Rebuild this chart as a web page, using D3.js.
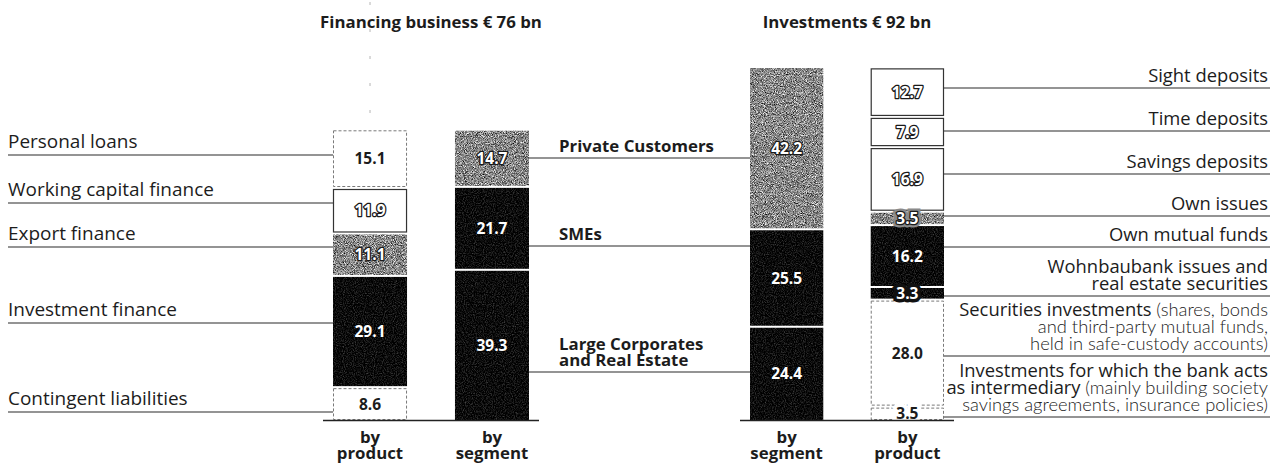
<!DOCTYPE html>
<html>
<head>
<meta charset="utf-8">
<script src="https://cdn.jsdelivr.net/npm/d3@7"></script>
<style>
  html, body { margin: 0; background: #fff; }
  svg { display: block; font-family: "Open Sans", "Noto Sans", sans-serif; }
  .light { font-family: Lato, "Open Sans", sans-serif; font-weight: 300; }
</style>
</head>
<body>
<svg id="chart" width="1277" height="470"></svg>
<script>
// ---------- data (€ bn) ----------
const financingTitle = "Financing business € 76 bn";
const investmentsTitle = "Investments € 92 bn";
const financingColumns = ["by product", "by segment"];
const investmentColumns = ["by segment", "by product"];

const financingProducts = ["Personal loans", "Working capital finance", "Export finance", "Investment finance", "Contingent liabilities"];
const financingProductValues = [15.1, 11.9, 11.1, 29.1, 8.6];

const segments = ["Private Customers", "SMEs", "Large Corporates and Real Estate"];
const financingSegmentValues = [14.7, 21.7, 39.3];
const investmentSegmentValues = [42.2, 25.5, 24.4];

const investmentProducts = ["Sight deposits", "Time deposits", "Savings deposits", "Own issues", "Own mutual funds",
  "Wohnbaubank issues and real estate securities",
  "Securities investments (shares, bonds and third-party mutual funds, held in safe-custody accounts)",
  "Investments for which the bank acts as intermediary (mainly building society savings agreements, insurance policies)"];
const investmentProductValues = [12.7, 7.9, 16.9, 3.5, 16.2, 3.3, 28.0, 3.5];

// ---------- label line breaks: [regular part, light part] ----------
const segmentLabelLines = [["Private Customers"], ["SMEs"], ["Large Corporates", "and Real Estate"]];
const investmentProductLines = [
  [["Sight deposits"]],
  [["Time deposits"]],
  [["Savings deposits"]],
  [["Own issues"]],
  [["Own mutual funds"]],
  [["Wohnbaubank issues and"], ["real estate securities"]],
  [["Securities investments ", "(shares, bonds"], ["", "and third-party mutual funds,"], ["", "held in safe-custody accounts)"]],
  [["Investments for which the bank acts"], ["as intermediary ", "(mainly building society"], ["", "savings agreements, insurance policies)"]]
];

// ---------- segment styles ----------
const financingProductStyles = ["dashed", "outline", "grain", "solid", "dashed"];
const financingSegmentStyles = ["grain", "solid", "solid"];
const investmentSegmentStyles = ["grain", "solid", "solid"];
const investmentProductStyles = ["outline", "outline", "outline", "grain", "solid", "solid", "dashed", "dashed"];

// ---------- leader line positions ----------
const financingProductLeaderY = [155, 203, 247, 323, 412];
const segmentLeaderY = [158, 246, 372];
const investmentProductLeaderY = [88, 131, 174, 216, 247, 296, 356, 417];

// ---------- layout ----------
const svg = d3.select("#chart");
const baseY = 420;
const ink = "#1c1c1c";

const y = d3.scaleLinear().domain([0, 92.1]).range([baseY, 68]);
const xFin = d3.scaleBand().domain(financingColumns).range([333, 529]).paddingInner(0.393);
const xInv = d3.scaleBand().domain(investmentColumns).range([750, 944]).paddingInner(0.393);

// print-screen textures
const defs = svg.append("defs");
function noiseFilter(id, gain, offset, freq, seed) {
  const f = defs.append("filter").attr("id", id)
    .attr("x", 0).attr("y", 0).attr("width", "100%").attr("height", "100%")
    .attr("color-interpolation-filters", "sRGB");
  f.append("feTurbulence").attr("type", "fractalNoise").attr("baseFrequency", freq)
    .attr("numOctaves", 2).attr("seed", seed).attr("result", "noise");
  f.append("feColorMatrix").attr("in", "noise").attr("type", "matrix")
    .attr("values", `${gain} 0 0 0 ${offset}  ${gain} 0 0 0 ${offset}  ${gain} 0 0 0 ${offset}  0 0 0 0 1`);
  f.append("feComposite").attr("in2", "SourceGraphic").attr("operator", "in");
}
noiseFilter("grain", 1.5, -0.22, 1.1, 7);
noiseFilter("speck", 0.55, -0.23, 0.9, 3);

// font sizes fitted to the label column widths
function fit(text, weight, target, cls) {
  const t = svg.append("text").style("font-size", "100px").style("font-weight", weight).text(text);
  if (cls) t.attr("class", cls);
  const w = t.node().getComputedTextLength();
  t.remove();
  return 100 * target / w;
}
const labelSize = Math.min(19, fit("Working capital finance", 400, 206));
const rightLabelSize = Math.min(19, fit("Investments for which the bank acts", 400, 309));
const lightSize = Math.min(rightLabelSize * 1.05, fit("savings agreements, insurance policies)", 300, 306, "light"));
const boldSize = Math.min(17, fit("Private Customers", 700, 155));
const valueSize = 15.5;

// ---------- stacked bars ----------
const bgColour = { dashed: "#fff", outline: "#fff", grain: "#8a8a8a", solid: "#111" };

function drawStack(x0, width, values, styles) {
  const g = svg.append("g");
  const n = values.length;
  // stack from the bottom: the last element sits on the baseline
  const tops = new Array(n), bottoms = new Array(n);
  let acc = 0;
  for (let i = n - 1; i >= 0; i--) {
    bottoms[i] = acc;
    acc += values[i];
    tops[i] = acc;
  }
  const segs = values.map((v, i) => ({
    v, style: styles[i],
    y0: y(tops[i]) + (i === 0 ? 0 : 1),
    y1: y(bottoms[i]) - (i === n - 1 ? 0 : 1)
  }));

  segs.forEach(s => {
    const r = g.append("rect")
      .attr("x", x0 + 0.5).attr("width", width - 1)
      .attr("y", s.y0 + 0.5).attr("height", Math.max(0, s.y1 - s.y0 - 1));
    if (s.style === "dashed") {
      r.attr("fill", "#fff").attr("stroke", "#7a7a7a").attr("stroke-width", 1).attr("stroke-dasharray", "3,2");
    } else if (s.style === "outline") {
      r.attr("fill", "#fff").attr("stroke", "#333").attr("stroke-width", 1.2);
    } else if (s.style === "grain") {
      r.attr("x", x0).attr("width", width).attr("y", s.y0).attr("height", s.y1 - s.y0)
        .attr("fill", "#8a8a8a").attr("filter", "url(#grain)");
    } else {
      r.attr("x", x0).attr("width", width).attr("y", s.y0).attr("height", s.y1 - s.y0)
        .attr("fill", "#111").attr("filter", "url(#speck)");
    }
  });

  segs.forEach(s => {
    const cx = x0 + width / 2;
    const cy = (s.y0 + s.y1) / 2 + valueSize * 0.36;
    const label = d3.format(".1f")(s.v);
    if (s.y1 - s.y0 < 18) {
      // halo so the label interrupts the separator lines
      g.append("text").attr("x", cx).attr("y", cy).attr("text-anchor", "middle")
        .style("font-size", valueSize + "px").style("font-weight", 700)
        .attr("fill", bgColour[s.style]).attr("stroke", bgColour[s.style]).attr("stroke-width", 7)
        .text(label);
    }
    const t = g.append("text").attr("x", cx).attr("y", cy).attr("text-anchor", "middle")
      .style("font-size", valueSize + "px").style("font-weight", 700).text(label);
    if (s.style === "dashed") t.attr("fill", ink);
    else if (s.style === "outline" || s.style === "grain")
      t.attr("fill", "#fff").attr("stroke", "#1a1a1a").attr("stroke-width", 2.6)
        .attr("stroke-linejoin", "round").style("paint-order", "stroke");
    else t.attr("fill", "#fff");
  });
}

// faint guide line above the financing product column
svg.append("line")
  .attr("x1", xFin("by product") + xFin.bandwidth() / 2).attr("x2", xFin("by product") + xFin.bandwidth() / 2)
  .attr("y1", 2).attr("y2", 118)
  .attr("stroke", "#b5b5b5").attr("stroke-width", 1).attr("stroke-dasharray", "3,24");

drawStack(xFin("by product"), xFin.bandwidth(), financingProductValues, financingProductStyles);
drawStack(xFin("by segment"), xFin.bandwidth(), financingSegmentValues, financingSegmentStyles);
drawStack(xInv("by segment"), xInv.bandwidth(), investmentSegmentValues, investmentSegmentStyles);
drawStack(xInv("by product"), xInv.bandwidth(), investmentProductValues, investmentProductStyles);

// baselines under each pair of columns
[[xFin, financingColumns], [xInv, investmentColumns]].forEach(([sc, cols]) => {
  svg.append("line")
    .attr("x1", sc(cols[0]) - 10).attr("x2", sc(cols[1]) + sc.bandwidth() + 10)
    .attr("y1", baseY + 0.5).attr("y2", baseY + 0.5)
    .attr("stroke", "#222").attr("stroke-width", 1.5);
});

// ---------- titles ----------
const titleG = svg.append("g").style("font-weight", 700).style("font-size", boldSize + "px").attr("fill", ink);
titleG.append("text").attr("x", (xFin.range()[0] + xFin.range()[1]) / 2).attr("y", 28)
  .attr("text-anchor", "middle").text(financingTitle);
titleG.append("text").attr("x", (xInv.range()[0] + xInv.range()[1]) / 2).attr("y", 28)
  .attr("text-anchor", "middle").text(investmentsTitle);

// ---------- column captions ----------
function captions(sc, cols) {
  cols.forEach(c => {
    const words = c.split(" ");
    const t = svg.append("text").attr("text-anchor", "middle")
      .style("font-weight", 700).style("font-size", boldSize + "px").attr("fill", ink);
    words.forEach((w, i) => t.append("tspan")
      .attr("x", sc(c) + sc.bandwidth() / 2).attr("y", 443 + i * 16).text(w));
  });
}
captions(xFin, financingColumns);
captions(xInv, investmentColumns);

// ---------- financing product labels (left) ----------
const leftX = 8;
financingProducts.forEach((name, i) => {
  const ly = financingProductLeaderY[i];
  svg.append("line").attr("x1", leftX).attr("x2", xFin("by product"))
    .attr("y1", ly).attr("y2", ly).attr("stroke", "#2a2a2a").attr("stroke-width", 1.2);
  svg.append("text").attr("x", leftX).attr("y", ly - 7)
    .style("font-size", labelSize + "px").attr("fill", ink).text(name);
});

// ---------- segment labels (between the panels) ----------
const segLeft = xFin("by segment") + xFin.bandwidth();
const segRight = xInv("by segment");
segments.forEach((name, i) => {
  const ly = segmentLeaderY[i];
  svg.append("line").attr("x1", segLeft).attr("x2", segRight)
    .attr("y1", ly).attr("y2", ly).attr("stroke", "#2a2a2a").attr("stroke-width", 1.2);
  const lines = segmentLabelLines[i];
  const t = svg.append("text").style("font-size", boldSize + "px").style("font-weight", 700).attr("fill", ink);
  lines.forEach((ln, j) => t.append("tspan")
    .attr("x", segLeft + 30).attr("y", ly - 6 - (lines.length - 1 - j) * 16).text(ln));
});

// ---------- investment product labels (right) ----------
const rightX = 1268;
const prodRight = xInv("by product") + xInv.bandwidth();
investmentProducts.forEach((name, i) => {
  const ly = investmentProductLeaderY[i];
  svg.append("line").attr("x1", prodRight).attr("x2", rightX + 2)
    .attr("y1", ly).attr("y2", ly).attr("stroke", "#2a2a2a").attr("stroke-width", 1.2);
  const lines = investmentProductLines[i];
  lines.forEach((parts, j) => {
    const t = svg.append("text").attr("x", rightX).attr("y", ly - 6 - (lines.length - 1 - j) * 17)
      .attr("text-anchor", "end").style("font-size", rightLabelSize + "px").attr("fill", ink);
    if (parts[0]) t.append("tspan").text(parts[0]);
    if (parts[1]) t.append("tspan").attr("class", "light").style("font-size", lightSize + "px")
      .attr("fill", "#222").text(parts[1]);
  });
});
</script>
</body>
</html>
